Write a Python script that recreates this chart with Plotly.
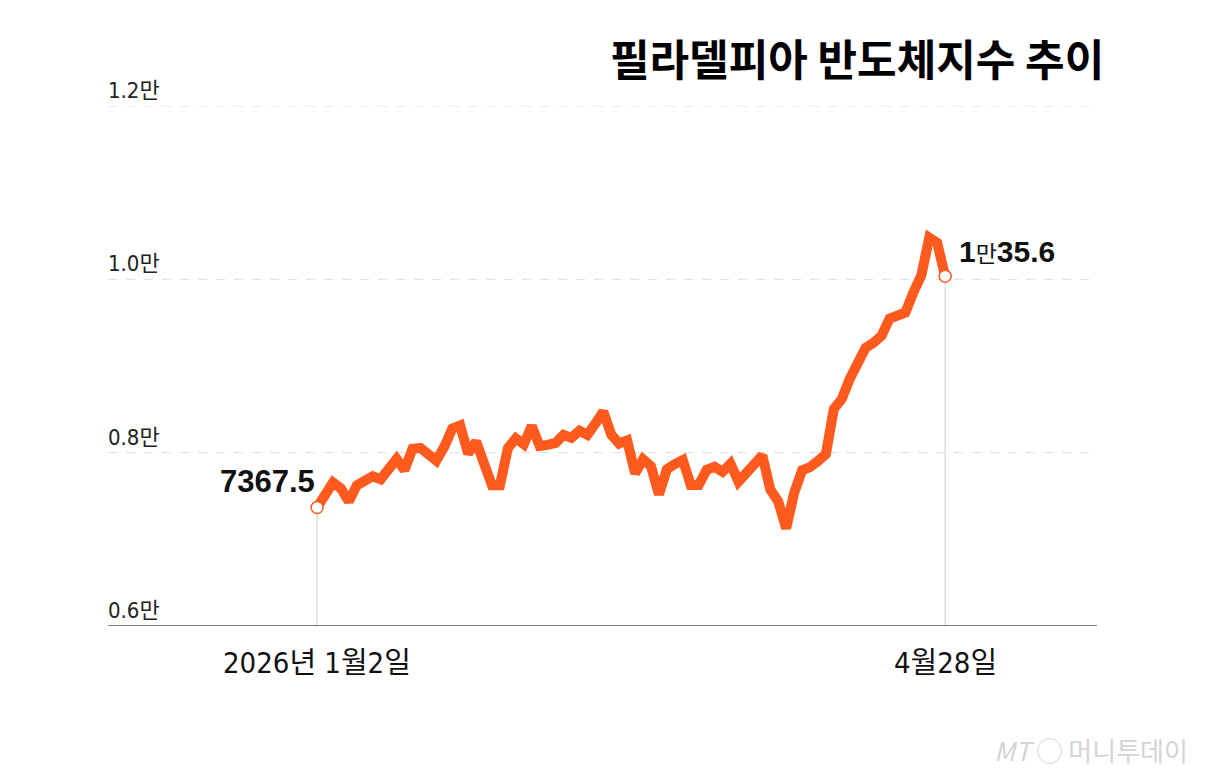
import pandas as pd
import plotly.graph_objects as go

# 필라델피아 반도체지수 종가 (2026-01-02 ~ 2026-04-28, 미국 증시 거래일)
holidays = ["2026-01-19", "2026-02-16", "2026-04-03"]
dates = pd.bdate_range("2026-01-02", "2026-04-28", freq="C", holidays=holidays).strftime("%Y-%m-%d").tolist()

values = [
    7367.5, 7517, 7656, 7587, 7438, 7623, 7670, 7728, 7694, 7811,
    7926, 7800, 8043, 8055, 7963, 7907, 8068, 8277, 8313, 7990,
    8129, 7875, 7623, 7623, 8051, 8166, 8098, 8307, 8076, 8089,
    8112, 8205, 8171, 8253, 8206, 8334, 8474, 8209, 8106, 8141,
    7761, 7923, 7843, 7520, 7810, 7868, 7915, 7627, 7627, 7802,
    7836, 7780, 7872, 7666, 7759, 7863, 7968, 7576, 7438, 7127,
    7532, 7797, 7833, 7903, 7984, 8504, 8619, 8851, 9024, 9210,
    9268, 9349, 9547, 9581, 9617, 9848, 10045, 10480, 10420, 10035.6,
]

y_ticks = [6000, 8000, 10000, 12000]
y_tick_text = ["0.6만", "0.8만", "1.0만", "1.2만"]
x_tick_text = ["2026년 1월2일", "4월28일"]
title = "필라델피아 반도체지수 추이"

ORANGE = "#ff5a1e"
NARROW = "DejaVu Sans Condensed, Noto Sans CJK KR, sans-serif"
BOLD = "Liberation Sans, Noto Sans CJK KR, sans-serif"

fig = go.Figure()

fig.add_trace(go.Scatter(x=dates, y=values, mode="lines",
                         line=dict(color=ORANGE, width=10), hoverinfo="x+y"))

# drop lines from the end points to the baseline
for d, v in [(dates[0], values[0]), (dates[-1], values[-1])]:
    fig.add_trace(go.Scatter(x=[d, d], y=[6000, v], mode="lines",
                             line=dict(color="#cfcfcf", width=1), hoverinfo="skip"))

fig.add_trace(go.Scatter(x=[dates[0], dates[-1]], y=[values[0], values[-1]], mode="markers",
                         marker=dict(size=12, color="white", line=dict(color=ORANGE, width=1.5)),
                         hoverinfo="skip"))

# dashed grid lines and solid baseline
for v in y_ticks[1:]:
    fig.add_shape(type="line", xref="paper", yref="y", x0=0, x1=1, y0=v, y1=v, layer="below",
                  line=dict(color="#dcdcdc", width=1, dash="dash"))
fig.add_shape(type="line", xref="paper", yref="y", x0=0, x1=1, y0=6000, y1=6000,
              line=dict(color="#555555", width=1.5))

annotations = []
for v, t in zip(y_ticks, y_tick_text):
    annotations.append(dict(x=0, xref="paper", y=v, yref="y", text=t, showarrow=False,
                            xanchor="left", yanchor="bottom", yshift=1, xshift=-2,
                            font=dict(family=NARROW, size=22, color="#222222")))

for d, t in zip([dates[0], dates[-1]], x_tick_text):
    annotations.append(dict(x=d, y=6000, text=t, showarrow=False,
                            xanchor="center", yanchor="top", yshift=-18,
                            font=dict(family=NARROW, size=29, color="#111111")))

annotations.append(dict(x=dates[0], y=values[0], text="<b>7367.5</b>", showarrow=False,
                        xanchor="right", yanchor="bottom", xshift=0, yshift=6,
                        font=dict(family=BOLD, size=31, color="#111111")))
annotations.append(dict(x=dates[-1], y=values[-1],
                        text="<b>1</b><span style='font-size:23px'>만</span><b>35.6</b>",
                        showarrow=False, xanchor="left", yanchor="bottom", xshift=12, yshift=6,
                        font=dict(family=BOLD, size=30, color="#111111")))

annotations.append(dict(x=1.0, y=1.0, xref="paper", yref="paper", showarrow=False,
                        xanchor="right", yanchor="middle", yshift=49, xshift=9,
                        text="<b>" + title + "</b>",
                        font=dict(family="Noto Sans CJK KR, sans-serif", size=43, color="#000000")))

annotations.append(dict(x=1.0, y=0, xref="paper", yref="paper", showarrow=False,
                        text="<i>MT</i> ◯ 머니투데이", xanchor="right", yanchor="top",
                        xshift=93, yshift=-103,
                        font=dict(family="Noto Sans CJK KR, sans-serif", size=26, color="#d4d4d4")))

fig.update_layout(
    width=1209, height=776,
    paper_bgcolor="white", plot_bgcolor="white",
    margin=dict(l=100, r=120, t=98, b=158),
    showlegend=False,
    annotations=annotations,
    xaxis=dict(type="category", categoryorder="array", categoryarray=dates,
               range=[-26.3, 98.1], showgrid=False, showticklabels=False,
               zeroline=False, showline=False),
    yaxis=dict(range=[6000, 12000], showticklabels=False, showgrid=False,
               zeroline=False, showline=False),
)

fig.write_html("out.html")
